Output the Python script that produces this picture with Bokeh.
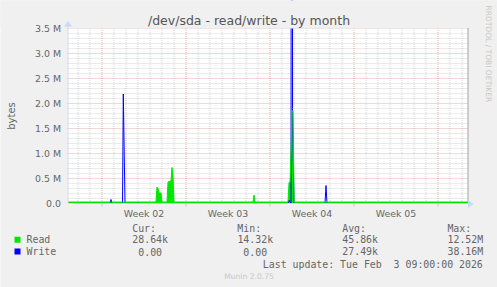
import math
from bokeh.plotting import figure
from bokeh.models import Label, PolyAnnotation, BoxAnnotation, Range1d
from bokeh.embed import file_html
from bokeh.resources import INLINE

# ---------------- data (time in hours from graph start, values in MB) ----------------
read_hours = [0, 176, 178, 180, 182, 186, 188, 198, 200, 206, 208, 210, 212,
              370, 372, 374, 440, 442, 444, 446, 448, 450, 452, 800]
read_mb = [0.03, 0.03, 0.33, 0.30, 0.21, 0.21, 0.03, 0.03, 0.43, 0.45, 0.72, 0.55, 0.03,
           0.03, 0.17, 0.03, 0.03, 0.42, 0.42, 1.0, 1.85, 1.85, 0.03, 0.03]
write_hours = [0, 84, 86, 88, 109, 110.6, 114, 138, 140, 142, 440, 442, 444, 446,
               448.6, 449.0, 452, 514, 516, 518, 800]
write_mb = [0, 0, 0.08, 0, 0, 2.19, 0, 0, 0.02, 0, 0, 0.07, 0.03, 0,
            38.16, 1.9, 0, 0, 0.36, 0, 0]

week_labels = ["Week 02", "Week 03", "Week 04", "Week 05"]
week_mid_hours = [152, 320, 488, 656]
week_start_hours = [68, 236, 404, 572, 740]
y_tick_labels = ["0.0", "0.5 M", "1.0 M", "1.5 M", "2.0 M", "2.5 M", "3.0 M", "3.5 M"]
y_tick_values = [0, 500000, 1000000, 1500000, 2000000, 2500000, 3000000, 3500000]

series_names = ["Read", "Write"]
series_colors = ["#00e800", "#0000ff"]
cur_vals = ["28.64k", "0.00"]
min_vals = ["14.32k", "0.00"]
avg_vals = ["45.86k", "27.49k"]
max_vals = ["12.52M", "38.16M"]
last_update = "Last update: Tue Feb \u00a03 09:00:00 2026"

read_bytes = [v * 1e6 for v in read_mb]
write_bytes = [v * 1e6 for v in write_mb]

FONT = "DejaVu Sans"
MONO = "DejaVu Sans Mono"
TXT = "#666666"
AXIS = "#CFD6F8"
W, H = 497, 287

# graph area: 800 hours over 400 px, 3.5 M over 175 px
X0, X1 = 0, 800
Y0, Y1 = 0, 3500000
HPP = 2          # hours per pixel
BPP = 20000      # bytes per pixel
x_start = X0 - 67.5 * HPP
y_start = Y0 - (H - 203) * BPP
x_rng = Range1d(x_start, x_start + W * HPP)
y_rng = Range1d(y_start, y_start + H * BPP)

p = figure(width=W, height=H, output_backend="svg", toolbar_location=None,
           title=None, x_range=x_rng, y_range=y_rng, min_border=0,
           x_axis_type=None, y_axis_type=None)
p.background_fill_color = "#f0f0f0"
p.border_fill_color = "#f0f0f0"
p.outline_line_color = None
p.xgrid.visible = False
p.ygrid.visible = False

# canvas (white graph area)
p.quad(left=X0, right=X1, bottom=Y0 - BPP / 2, top=Y1 + BPP / 2, color="#ffffff")

# grid lines (dotted)
minor_y = [v for v in range(Y0, Y1 + 1, 100000) if v % 500000]
day_lines = [h for h in range(20, X1, 24) if h not in week_start_hours]


def hgrid(vals, color, alpha):
    p.multi_line(xs=[[X0 - HPP / 2, X1] for _ in vals], ys=[[v, v] for v in vals],
                 line_color=color, line_alpha=alpha, line_dash="1 1", line_width=1)


def vgrid(vals, color, alpha):
    p.multi_line(xs=[[h, h] for h in vals], ys=[[Y1 + BPP / 2, Y0] for _ in vals],
                 line_color=color, line_alpha=alpha, line_dash="1 1", line_width=1)


hgrid(minor_y, "#8c8c8c", 0.35)
vgrid(day_lines, "#8c8c8c", 0.35)
hgrid(y_tick_values[1:], "#c02020", 0.35)
vgrid(week_start_hours, "#c02020", 0.35)

# series
p.varea(x=read_hours, y1=0, y2=read_bytes, color=series_colors[0])
p.line(x=write_hours, y=write_bytes, line_color=series_colors[1], line_width=1)
p.line(x=read_hours, y=read_bytes, line_color=series_colors[0], line_width=1)

# mask the part of the series above the graph area
p.quad(left=x_rng.start, right=x_rng.end, bottom=Y1 + BPP / 2, top=y_rng.end, color="#f0f0f0")

# axes
p.segment(x0=[X0, X0], y0=[Y0, Y0], x1=[X1, X0], y1=[Y0, Y1 + 2.5 * BPP],
          line_color=AXIS, line_width=1)
p.segment(x0=[X1], y0=[Y0], x1=[X1], y1=[Y1 + BPP / 2], line_color="#a0a0a0", line_width=1)
p.segment(x0=week_start_hours, y0=[Y0] * 5, x1=week_start_hours, y1=[Y0 - 3 * BPP] * 5,
          line_color="#c0c0c0", line_width=1)

for v, t in zip(y_tick_values, y_tick_labels):
    p.add_layout(Label(x=X0, y=v, x_offset=-7, text=t, text_font=FONT, text_font_size="9.4px",
                       text_color=TXT, text_align="right", text_baseline="middle"))
for h, t in zip(week_mid_hours, week_labels):
    p.add_layout(Label(x=h, y=Y0, y_offset=-9.7, text=t, text_font=FONT, text_font_size="9.4px",
                       text_color=TXT, text_align="center", text_baseline="middle"))


def lab(x, y, text, font=FONT, size="9.9px", color=TXT, align="left", angle=0):
    # x, y given as pixels from the top-left corner of the image
    p.add_layout(Label(x=x, y=H - y, x_units="screen", y_units="screen", text=text,
                       text_font=font, text_font_size=size, text_color=color,
                       text_align=align, text_baseline="middle", angle=angle))


lab(248.5, 20, "/dev/sda - read/write - by month", size="12.5px", color="#555555", align="center")
lab(11, 115.5, "bytes", size="10px", align="center", angle=math.pi / 2)
lab(488, 5, "RRDTOOL / TOBI OETIKER", size="7.5px", color="#c8c8c8", align="left", angle=-math.pi / 2)

# legend
col_x = [131.7, 236.8, 341.7, 446.9]
for hx, h in zip(col_x, ["Cur:", "Min:", "Avg:", "Max:"]):
    lab(hx, 227.7, h, font=MONO)
row_y = [239.3, 251]
for i in range(2):
    lab(26, row_y[i], series_names[i], font=MONO)
    for cx, vals in zip(col_x, [cur_vals, min_vals, avg_vals, max_vals]):
        lab(cx + 35.8 - (0 if vals[i][-1].isalpha() else 5.96), row_y[i], vals[i],
            font=MONO, align="right")
lab(482.3, 263.7, last_update, font=MONO, align="right")
lab(248.5, 276, "Munin 2.0.75", size="7.6px", color="#c8c8c8", align="center")

for i in range(2):
    p.add_layout(BoxAnnotation(left=14, right=20, top=H - (row_y[i] - 3), bottom=H - (row_y[i] + 3),
                               left_units="screen", right_units="screen",
                               top_units="screen", bottom_units="screen",
                               fill_color=series_colors[i], fill_alpha=1, line_color=None))

# arrows at the ends of the axes
p.add_layout(PolyAnnotation(xs=[63.5, 67.5, 71.5], ys=[H - 26, H - 20.5, H - 26], xs_units="screen",
                            ys_units="screen", fill_color=AXIS, fill_alpha=1, line_color=None))
p.add_layout(PolyAnnotation(xs=[467.5, 473, 467.5], ys=[H - 199.5, H - 203.5, H - 207.5],
                            xs_units="screen", ys_units="screen", fill_color=AXIS, fill_alpha=1,
                            line_color=None))

open("out.html", "w").write(file_html(p, INLINE))
